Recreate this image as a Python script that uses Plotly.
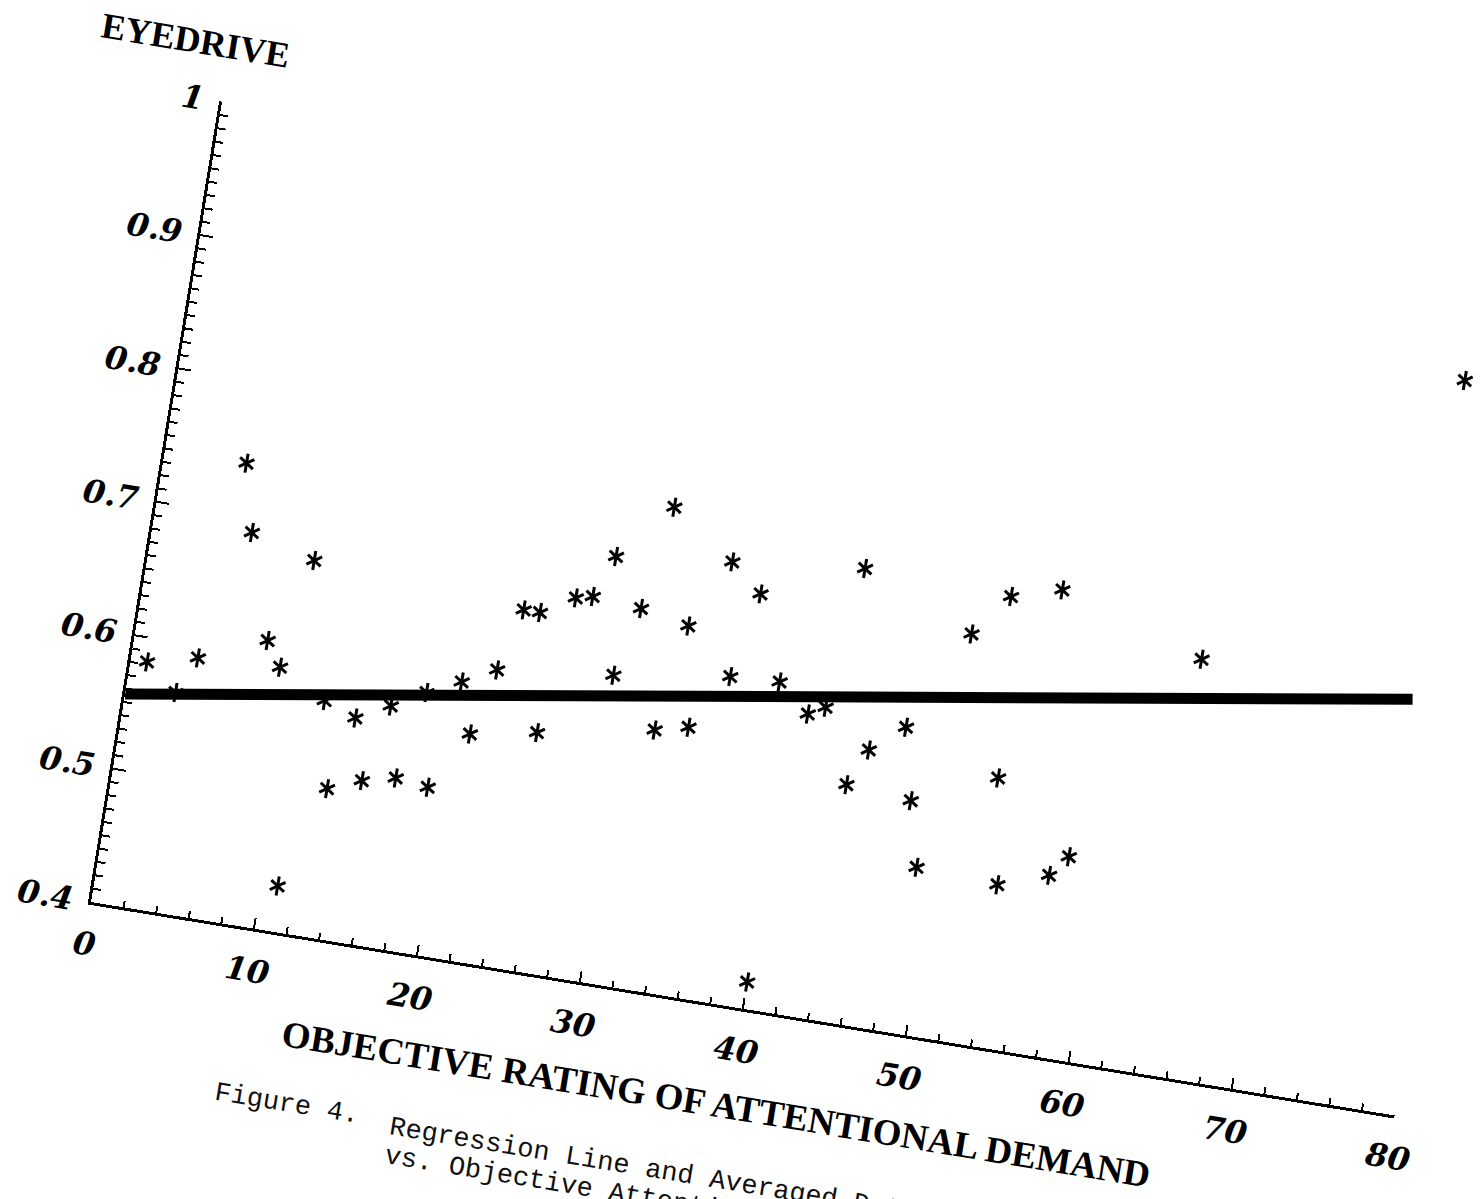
import plotly.graph_objects as go

# Data read from the (rotated, scanned) figure
demand = [1, 3, 4, 5, 6, 8, 9, 10, 11, 12, 13, 14, 15, 16, 17, 18, 19, 20, 21, 22,
          23, 24, 25, 26, 27, 28, 29, 30, 31, 32, 33, 34, 35, 36, 37, 39, 40, 41, 42, 43,
          44, 45, 47, 48, 49, 50, 52, 53, 54, 55, 57, 58, 64, 77]
eyedrive = [0.582, 0.563, 0.591, 0.739, 0.689, 0.612, 0.594, 0.676, 0.434, 0.575,
            0.511, 0.566, 0.521, 0.579, 0.527, 0.593, 0.524, 0.605, 0.568, 0.618,
            0.665, 0.665, 0.577, 0.680, 0.683, 0.715, 0.628, 0.680, 0.758, 0.593,
            0.673, 0.599, 0.725, 0.641, 0.705, 0.643, 0.420, 0.623, 0.630, 0.736,
            0.576, 0.604, 0.625, 0.572, 0.524, 0.701, 0.733, 0.599, 0.521, 0.744,
            0.534, 0.550, 0.710, 0.945]

reg_x = [0, 77]
reg_y = [0.556, 0.706]

y_title = "EYEDRIVE"
x_title = "OBJECTIVE RATING OF ATTENTIONAL DEMAND"
caption_label = "Figure 4."
caption_line1 = "Regression Line and Averaged Data"
caption_line2 = "vs. Objective Attentional Demand"

PAD = 150                      # extra room on the left so the tilted title is not clipped
W, H = 1482, 1199
L0, R, T, B = 91, 70, 91, 297
L = L0 + PAD
FW = W + PAD
PW, PH = FW - L - R, H - T - B

def px(xp):
    return (xp + PAD - L) / PW

def py(yp):
    return (H - B - yp) / PH

tick_font = dict(family="DejaVu Serif", size=32, color="black", weight="bold", style="italic")

fig = go.Figure()
fig.add_trace(go.Scatter(x=reg_x, y=reg_y, mode="lines",
                         line=dict(color="black", width=11), hoverinfo="skip"))
for sym in ["y-up-open", "y-down-open"]:
    fig.add_trace(go.Scatter(x=demand, y=eyedrive, mode="markers",
                             marker=dict(symbol=sym, size=12, color="black",
                                         line=dict(width=3, color="black")),
                             cliponaxis=False))

fig.update_layout(
    width=FW, height=H,
    margin=dict(l=L, r=R, t=T, b=B),
    paper_bgcolor="white", plot_bgcolor="white",
    showlegend=False,
    xaxis=dict(range=[0, 80], tickmode="linear", tick0=0, dtick=10,
               showline=True, linecolor="black", linewidth=2.5,
               ticks="inside", ticklen=11, tickwidth=2, tickcolor="black",
               minor=dict(tick0=0, dtick=2, ticks="inside", ticklen=7, tickwidth=2,
                          tickcolor="black", showgrid=False),
               showgrid=False, zeroline=False, tickfont=tick_font,
               ticklabelstandoff=12),
    yaxis=dict(range=[0.4, 1.0], tickmode="linear", tick0=0.4, dtick=0.1,
               showline=True, linecolor="black", linewidth=3,
               ticks="inside", ticklen=13, tickwidth=2, tickcolor="black",
               minor=dict(tick0=0.4, dtick=0.01, ticks="inside", ticklen=8, tickwidth=2,
                          tickcolor="black", showgrid=False),
               showgrid=False, zeroline=False, tickfont=tick_font,
               ticklabelstandoff=9),
    annotations=[
        dict(text=y_title, xref="paper", yref="paper", x=px(55), y=py(35),
             xanchor="center", yanchor="middle", showarrow=False,
             font=dict(family="Liberation Serif", size=36, color="black", weight="bold")),
        dict(text=x_title, xref="paper", yref="paper", x=px(740), y=py(1000),
             xanchor="center", yanchor="middle", showarrow=False,
             font=dict(family="Liberation Serif", size=37, color="black", weight="bold")),
        dict(text=caption_label, xref="paper", yref="paper", x=px(242), y=py(1070),
             xanchor="left", yanchor="middle", showarrow=False,
             font=dict(family="Liberation Mono", size=27, color="#111")),
        dict(text=caption_line1, xref="paper", yref="paper", x=px(420), y=py(1076),
             xanchor="left", yanchor="middle", showarrow=False,
             font=dict(family="Liberation Mono", size=27, color="#111")),
        dict(text=caption_line2, xref="paper", yref="paper", x=px(420), y=py(1105),
             xanchor="left", yanchor="middle", showarrow=False,
             font=dict(family="Liberation Mono", size=27, color="#111")),
    ],
)

# The scanned page is tilted ~9.3 degrees clockwise; tilt the whole figure about the axes origin
# and shift it left by the extra padding.
post = """
document.documentElement.style.overflow = 'hidden';
document.body.style.margin = '0';
document.body.style.overflow = 'hidden';
var gd = document.getElementById('{plot_id}');
gd.style.transformOrigin = '%dpx %dpx';
gd.style.transform = 'translate(-%dpx, 0px) rotate(9.3deg)';
""" % (L, H - B, PAD)

fig.write_html("out.html", config={"displayModeBar": False}, post_script=post)
